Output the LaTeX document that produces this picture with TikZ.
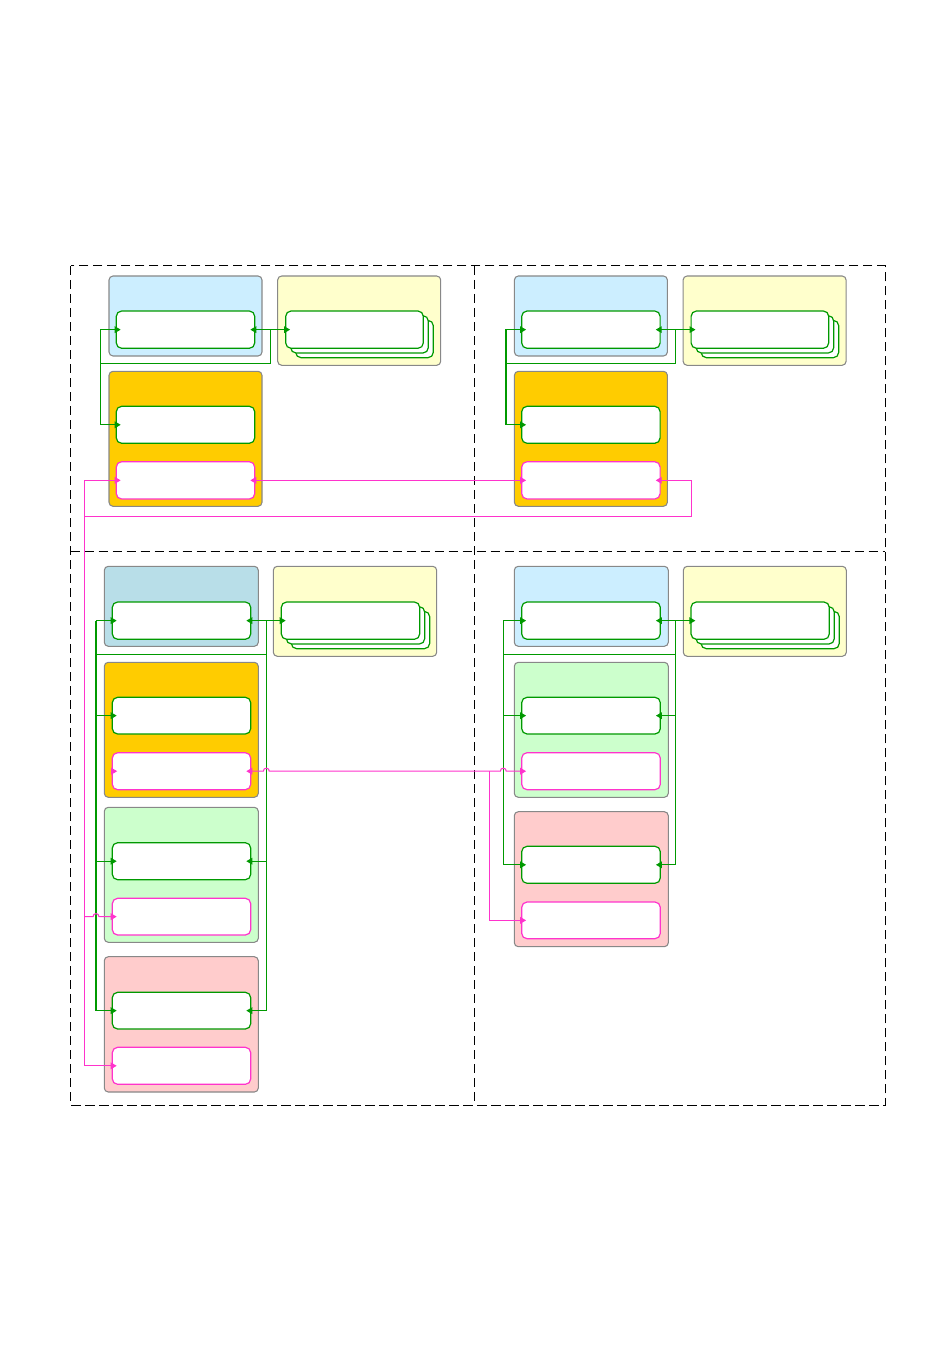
\documentclass[tikz,border=0pt]{standalone}
\usetikzlibrary{arrows.meta,fit,calc}
\definecolor{blueL}{HTML}{CCEEFF}
\definecolor{blueD}{HTML}{B8DEE8}
\definecolor{yelL}{HTML}{FFFFCC}
\definecolor{oraL}{HTML}{FFCC00}
\definecolor{grnL}{HTML}{CCFFCC}
\definecolor{redL}{HTML}{FFCCCC}
\definecolor{grn}{HTML}{009900}
\definecolor{mag}{HTML}{FF33CC}
\definecolor{contgray}{HTML}{888888}
\begin{document}
\begin{tikzpicture}[x=0.75pt,y=-0.75pt,
  >={Triangle[length=4.5pt,width=5pt]},
  cont/.style={draw=contgray,line width=0.8pt,rounded corners=3pt,inner sep=0pt},
  gbox/.style={draw=grn,fill=white,line width=0.9pt,rounded corners=4pt,inner sep=0pt},
  mbox/.style={draw=mag,fill=white,line width=0.9pt,rounded corners=4pt,inner sep=0pt},
  gl/.style={draw=grn,line width=0.8pt},
  ml/.style={draw=mag,line width=0.8pt},
  tip/.style={->,shorten >=-3.75pt},
  tips/.style={<->,shorten >=-3.75pt,shorten <=-3.75pt},
  frame/.style={draw=black,line width=0.75pt,dash pattern=on 7pt off 3.5pt}]
\useasboundingbox (0,0) rectangle (950,1369);

% dashed frame
\draw[frame] (70.7,266) rectangle (885,1105.5);
\draw[frame] (474.5,266) -- (474.5,1105.5);
\draw[frame] (70.7,551) -- (885,551);

% ---------- top-left ----------
\node[cont,fill=blueL,fit={(109,276) (262,356)}] (bA) {};
\node[gbox,fit={(116.3,311) (254.7,348.3)}] (gA1) {};
\node[cont,fill=yelL,fit={(277.7,276) (440.7,365.3)}] (yA) {};
\node[gbox,fit={(295.7,320.4) (433.3,357.7)}] (sA3) {};
\node[gbox,fit={(290.7,315.7) (428.3,353)}] (sA2) {};
\node[gbox,fit={(285.7,311) (423.3,348.3)}] (sA1) {};
\node[cont,fill=oraL,fit={(109,371.3) (262,506.3)}] (oA) {};
\node[gbox,fit={(116.3,406.3) (254.7,443.3)}] (gA2) {};
\node[mbox,fit={(116.3,461.7) (254.7,499)}] (mA) {};

% ---------- top-right ----------
\node[cont,fill=blueL,fit={(514.4,276) (667.4,356)}] (bB) {};
\node[gbox,fit={(521.7,311) (660.1,348.3)}] (gB1) {};
\node[cont,fill=yelL,fit={(683.1,276) (846.1,365.3)}] (yB) {};
\node[gbox,fit={(701.1,320.4) (838.7,357.7)}] (sB3) {};
\node[gbox,fit={(696.1,315.7) (833.7,353)}] (sB2) {};
\node[gbox,fit={(691.1,311) (828.7,348.3)}] (sB1) {};
\node[cont,fill=oraL,fit={(514.4,371.3) (667.4,506.3)}] (oB) {};
\node[gbox,fit={(521.7,406.3) (660.1,443.3)}] (gB2) {};
\node[mbox,fit={(521.7,461.7) (660.1,499)}] (mB) {};

% ---------- bottom-left ----------
\node[cont,fill=blueD,fit={(104.3,566.3) (258.3,646.3)}] (bC) {};
\node[gbox,fit={(112.3,602) (250.7,639.3)}] (gC1) {};
\node[cont,fill=yelL,fit={(273.3,566.3) (436.7,656.3)}] (yC) {};
\node[gbox,fit={(291.3,611.4) (429.7,648.7)}] (sC3) {};
\node[gbox,fit={(286.3,606.7) (424.7,644)}] (sC2) {};
\node[gbox,fit={(281.3,602) (419.7,639.3)}] (sC1) {};
\node[cont,fill=oraL,fit={(104.3,662.3) (258.3,797.3)}] (oC) {};
\node[gbox,fit={(112.3,697.3) (250.7,734)}] (gC2) {};
\node[mbox,fit={(112.3,752.7) (250.7,789.7)}] (mC2) {};
\node[cont,fill=grnL,fit={(104.3,807.3) (258.3,942.3)}] (lC) {};
\node[gbox,fit={(112.3,842.7) (250.7,879.7)}] (gC3) {};
\node[mbox,fit={(112.3,898.3) (250.7,935)}] (mC3) {};
\node[cont,fill=redL,fit={(104.3,956.7) (258.3,1092)}] (rC) {};
\node[gbox,fit={(112.3,992.3) (250.7,1029)}] (gC4) {};
\node[mbox,fit={(112.3,1047.3) (250.7,1084.3)}] (mC4) {};

% ---------- bottom-right ----------
\node[cont,fill=blueL,fit={(514.3,566.3) (668.3,646.3)}] (bD) {};
\node[gbox,fit={(521.7,602) (660.3,639.3)}] (gD1) {};
\node[cont,fill=yelL,fit={(683.3,566.3) (846.3,656.3)}] (yD) {};
\node[gbox,fit={(701,611.4) (839.3,648.7)}] (sD3) {};
\node[gbox,fit={(696,606.7) (834.3,644)}] (sD2) {};
\node[gbox,fit={(691,602) (829.3,639.3)}] (sD1) {};
\node[cont,fill=grnL,fit={(514.3,662.3) (668.3,797.3)}] (lD) {};
\node[gbox,fit={(521.7,697.3) (660.3,734)}] (gD2) {};
\node[mbox,fit={(521.7,752.7) (660.3,789.7)}] (mD2) {};
\node[cont,fill=redL,fit={(514.3,811.7) (668.3,946.7)}] (rD) {};
\node[gbox,fit={(521.7,846.3) (660.3,883.3)}] (gD3) {};
\node[mbox,fit={(521.7,902) (660.3,938.7)}] (mD3) {};

% bus coordinates
\coordinate (tlL) at (100.3,363.3);
\coordinate (tlR) at (270.3,363.3);
\coordinate (trL) at (506,363.3);
\coordinate (trR) at (675.3,363.3);
\coordinate (blL) at (96,654.3);
\coordinate (blR) at (266.3,654.3);
\coordinate (brL) at (503.3,654.3);
\coordinate (brR) at (675.3,654.3);
\coordinate (mx) at (84.3,516.3);
\coordinate (mxr) at (691.3,516.3);
\coordinate (brx) at (489.7,0);
\coordinate (jA1) at (93,0);
\coordinate (jA2) at (99,0);
\coordinate (jB1) at (263.3,0);
\coordinate (jB2) at (269.3,0);
\coordinate (jC1) at (500.3,0);
\coordinate (jC2) at (506.3,0);

% ---------- green connectors: top-left ----------
\draw[gl,tip] (gA2.west -| tlL) |- (gA1.west);
\draw[gl,tip] (gA1.west -| tlL) |- (gA2.west);
\draw[gl,tips] (gA1.east) -- (sA1.west);
\draw[gl] (gA1.east -| tlR) -- (tlR) -- (tlL);

% ---------- green connectors: top-right ----------
\draw[gl,tip] (gB2.west -| trL) |- (gB1.west);
\draw[gl,tip] (gB1.west -| trL) |- (gB2.west);
\draw[gl,tips] (gB1.east) -- (sB1.west);
\draw[gl] (gB1.east -| trR) -- (trR) -- (trL);

% ---------- green connectors: bottom-left ----------
\draw[gl] (gC1.west -| blL) -- (gC4.west -| blL);
\draw[gl] (gC1.east -| blR) -- (gC4.east -| blR);
\draw[gl] (blL) -- (blR);
\draw[gl,tip] (gC1.west -| blL) -- (gC1.west);
\draw[gl,tip] (gC2.west -| blL) -- (gC2.west);
\draw[gl,tip] (gC3.west -| blL) -- (gC3.west);
\draw[gl,tip] (gC4.west -| blL) -- (gC4.west);
\draw[gl,tips] (gC1.east) -- (sC1.west);
\draw[gl,tip] (gC3.east -| blR) -- (gC3.east);
\draw[gl,tip] (gC4.east -| blR) -- (gC4.east);

% ---------- green connectors: bottom-right ----------
\draw[gl] (gD1.west -| brL) -- (gD3.west -| brL);
\draw[gl] (gD1.east -| brR) -- (gD3.east -| brR);
\draw[gl] (brL) -- (brR);
\draw[gl,tip] (gD1.west -| brL) -- (gD1.west);
\draw[gl,tip] (gD2.west -| brL) -- (gD2.west);
\draw[gl,tip] (gD3.west -| brL) -- (gD3.west);
\draw[gl,tips] (gD1.east) -- (sD1.west);
\draw[gl,tip] (gD2.east -| brR) -- (gD2.east);
\draw[gl,tip] (gD3.east -| brR) -- (gD3.east);

% ---------- magenta connectors ----------
\draw[ml,tips] (mA.east) -- (mB.west);
\draw[ml,tip] (mx) |- (mA.west);
\draw[ml,tip] (mx) |- (mC4.west);
\draw[ml,tip] (mx) -- (mxr) |- (mB.east);
\draw[ml,tip] (mC3.west -| mx) -- (mC3.west -| jA1)
  .. controls +(0,-4) and +(0,-4) .. (mC3.west -| jA2) -- (mC3.west);
\draw[ml,tips] (mC2.east) -- (mC2.east -| jB1)
  .. controls +(0,-4) and +(0,-4) .. (mC2.east -| jB2)
  -- (mD2.west -| jC1)
  .. controls +(0,-4) and +(0,-4) .. (mD2.west -| jC2) -- (mD2.west);
\draw[ml,tip] (mD2.west -| brx) |- (mD3.west);
\draw[ml,tip] (mC2.west) -- ++(0.5,0);
\end{tikzpicture}
\end{document}
